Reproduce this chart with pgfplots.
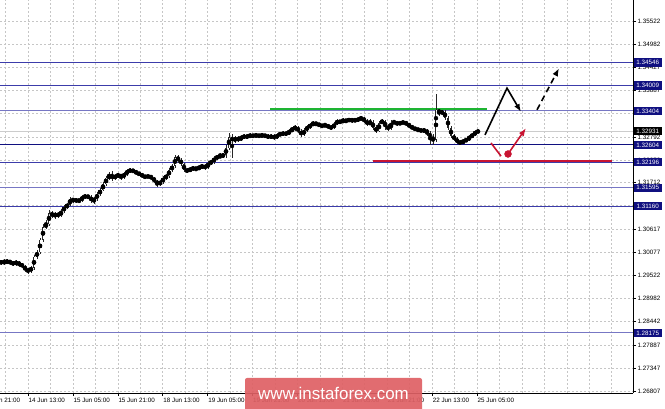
\documentclass[border=0pt]{standalone}
\usepackage{fontspec}
\setmainfont{Liberation Sans}
\usepackage{pgfplots}
\pgfplotsset{compat=1.18}
\usepackage{pgfplotstable}
\usetikzlibrary{arrows.meta}
\definecolor{lvl}{RGB}{60,60,170}
\definecolor{lvlbox}{RGB}{16,16,128}
\definecolor{grn}{RGB}{30,180,50}
\definecolor{rd}{RGB}{200,20,50}
\definecolor{wm}{RGB}{222,96,100}
\pgfplotstableread{
x o h l c
1 1.2983 1.2990 1.2978 1.2985
4 1.2985 1.2992 1.2978 1.2983
7 1.2983 1.2992 1.2980 1.2987
10 1.2987 1.2990 1.2978 1.2983
13 1.2983 1.2987 1.2976 1.2980
16 1.2980 1.2990 1.2976 1.2985
19 1.2985 1.2987 1.2973 1.2978
22 1.2978 1.2983 1.2971 1.2976
25 1.2976 1.2978 1.2961 1.2966
28 1.2966 1.2971 1.2957 1.2964
31 1.2964 1.2976 1.2959 1.2971
34 1.2971 1.3001 1.2966 1.2997
37 1.2997 1.3013 1.2992 1.3008
40 1.3008 1.3041 1.3004 1.3037
43 1.3037 1.3074 1.3032 1.3067
46 1.3067 1.3084 1.3063 1.3074
49 1.3074 1.3107 1.3070 1.3100
52 1.3100 1.3105 1.3089 1.3093
55 1.3093 1.3103 1.3086 1.3098
58 1.3098 1.3103 1.3089 1.3093
61 1.3093 1.3110 1.3091 1.3105
64 1.3105 1.3119 1.3100 1.3114
67 1.3114 1.3124 1.3110 1.3119
70 1.3119 1.3138 1.3117 1.3133
73 1.3133 1.3136 1.3124 1.3129
76 1.3129 1.3136 1.3124 1.3131
79 1.3131 1.3133 1.3124 1.3129
82 1.3129 1.3143 1.3126 1.3138
85 1.3138 1.3145 1.3133 1.3140
88 1.3140 1.3143 1.3133 1.3138
91 1.3138 1.3143 1.3124 1.3129
94 1.3129 1.3138 1.3121 1.3133
97 1.3133 1.3150 1.3129 1.3145
100 1.3145 1.3159 1.3140 1.3154
103 1.3154 1.3173 1.3152 1.3168
106 1.3168 1.3187 1.3164 1.3183
109 1.3183 1.3197 1.3178 1.3187
112 1.3187 1.3199 1.3176 1.3183
115 1.3183 1.3192 1.3178 1.3187
118 1.3187 1.3194 1.3183 1.3190
121 1.3190 1.3192 1.3178 1.3185
124 1.3185 1.3197 1.3180 1.3192
127 1.3192 1.3204 1.3187 1.3199
130 1.3199 1.3206 1.3194 1.3201
133 1.3201 1.3204 1.3194 1.3199
136 1.3199 1.3201 1.3190 1.3194
139 1.3194 1.3197 1.3187 1.3192
142 1.3192 1.3194 1.3183 1.3187
145 1.3187 1.3190 1.3180 1.3185
148 1.3185 1.3190 1.3183 1.3187
151 1.3187 1.3190 1.3178 1.3183
154 1.3183 1.3185 1.3171 1.3176
157 1.3176 1.3178 1.3161 1.3168
160 1.3168 1.3178 1.3164 1.3173
163 1.3173 1.3187 1.3168 1.3183
166 1.3183 1.3192 1.3178 1.3187
169 1.3187 1.3206 1.3183 1.3201
172 1.3201 1.3216 1.3197 1.3211
175 1.3211 1.3237 1.3206 1.3232
178 1.3232 1.3237 1.3218 1.3225
181 1.3225 1.3230 1.3211 1.3216
184 1.3216 1.3218 1.3197 1.3201
187 1.3201 1.3206 1.3194 1.3199
190 1.3199 1.3208 1.3197 1.3204
193 1.3204 1.3211 1.3199 1.3206
196 1.3206 1.3208 1.3199 1.3204
199 1.3204 1.3213 1.3201 1.3208
202 1.3208 1.3216 1.3204 1.3211
205 1.3211 1.3216 1.3201 1.3206
208 1.3206 1.3223 1.3204 1.3218
211 1.3218 1.3225 1.3213 1.3220
214 1.3220 1.3234 1.3216 1.3230
217 1.3230 1.3237 1.3225 1.3232
220 1.3232 1.3241 1.3230 1.3234
223 1.3234 1.3241 1.3230 1.3237
226 1.3237 1.3260 1.3230 1.3253
229 1.3253 1.3288 1.3248 1.3279
232 1.3279 1.3286 1.3230 1.3270
235 1.3270 1.3281 1.3265 1.3277
238 1.3277 1.3281 1.3267 1.3272
241 1.3272 1.3284 1.3270 1.3279
244 1.3279 1.3286 1.3274 1.3281
247 1.3281 1.3286 1.3274 1.3279
250 1.3279 1.3288 1.3277 1.3284
253 1.3284 1.3286 1.3277 1.3281
256 1.3281 1.3288 1.3279 1.3284
259 1.3284 1.3286 1.3277 1.3281
262 1.3281 1.3288 1.3279 1.3284
265 1.3284 1.3286 1.3277 1.3281
268 1.3281 1.3286 1.3274 1.3279
271 1.3279 1.3286 1.3274 1.3281
274 1.3281 1.3286 1.3272 1.3277
277 1.3277 1.3288 1.3274 1.3284
280 1.3284 1.3291 1.3281 1.3286
283 1.3286 1.3293 1.3281 1.3288
286 1.3288 1.3293 1.3281 1.3286
289 1.3286 1.3298 1.3284 1.3293
292 1.3293 1.3303 1.3291 1.3298
295 1.3298 1.3307 1.3293 1.3303
298 1.3303 1.3305 1.3288 1.3293
301 1.3293 1.3298 1.3279 1.3284
304 1.3284 1.3300 1.3281 1.3296
307 1.3296 1.3307 1.3291 1.3303
310 1.3303 1.3312 1.3298 1.3307
313 1.3307 1.3317 1.3305 1.3312
316 1.3312 1.3314 1.3305 1.3310
319 1.3310 1.3312 1.3303 1.3307
322 1.3307 1.3310 1.3300 1.3305
325 1.3305 1.3312 1.3303 1.3307
328 1.3307 1.3310 1.3298 1.3303
331 1.3303 1.3307 1.3296 1.3300
334 1.3300 1.3314 1.3298 1.3310
337 1.3310 1.3321 1.3307 1.3317
340 1.3317 1.3319 1.3310 1.3314
343 1.3314 1.3324 1.3312 1.3319
346 1.3319 1.3321 1.3312 1.3317
349 1.3317 1.3324 1.3314 1.3321
352 1.3321 1.3324 1.3312 1.3317
355 1.3317 1.3324 1.3314 1.3319
358 1.3319 1.3326 1.3314 1.3321
361 1.3321 1.3328 1.3319 1.3324
364 1.3324 1.3326 1.3312 1.3317
367 1.3317 1.3321 1.3305 1.3310
370 1.3310 1.3321 1.3307 1.3314
373 1.3314 1.3319 1.3296 1.3300
376 1.3300 1.3307 1.3288 1.3293
379 1.3293 1.3317 1.3291 1.3312
382 1.3312 1.3321 1.3310 1.3317
385 1.3317 1.3319 1.3296 1.3303
388 1.3303 1.3310 1.3293 1.3298
391 1.3298 1.3319 1.3296 1.3312
394 1.3312 1.3319 1.3310 1.3314
397 1.3314 1.3317 1.3305 1.3310
400 1.3310 1.3317 1.3307 1.3312
403 1.3312 1.3317 1.3310 1.3314
406 1.3314 1.3317 1.3305 1.3310
409 1.3310 1.3312 1.3300 1.3305
412 1.3305 1.3307 1.3296 1.3300
415 1.3300 1.3303 1.3293 1.3298
418 1.3298 1.3300 1.3291 1.3296
421 1.3296 1.3298 1.3291 1.3293
424 1.3293 1.3298 1.3291 1.3296
427 1.3296 1.3298 1.3281 1.3288
430 1.3288 1.3293 1.3260 1.3279
433 1.3279 1.3286 1.3260 1.3272
436 1.3272 1.3380 1.3267 1.3343
439 1.3343 1.3345 1.3328 1.3336
442 1.3336 1.3343 1.3331 1.3338
445 1.3338 1.3343 1.3319 1.3324
448 1.3324 1.3328 1.3296 1.3300
451 1.3300 1.3305 1.3277 1.3281
454 1.3281 1.3286 1.3270 1.3274
457 1.3274 1.3279 1.3263 1.3267
460 1.3267 1.3272 1.3260 1.3265
463 1.3265 1.3274 1.3263 1.3270
466 1.3270 1.3277 1.3267 1.3272
469 1.3272 1.3284 1.3270 1.3279
472 1.3279 1.3288 1.3277 1.3284
475 1.3284 1.3296 1.3281 1.3291
478 1.3291 1.3296 1.3288 1.3293
}\candles

\begin{document}
\begin{tikzpicture}
\useasboundingbox (0,0) rectangle (665bp,409bp);
\begin{axis}[
  at={(0,16bp)}, anchor=south west,
  width=633bp, height=393bp, scale only axis,
  xmin=0, xmax=633, ymin=1.26761, ymax=1.36017,
  axis x line*=bottom, axis y line*=right,
  axis line style={black, line width=0.8bp},
  clip=false,
  tick align=outside, major tick length=3bp, minor tick length=0pt,
  tick style={black, line width=0.6bp},
  xtick={28,72.9,117.8,162.7,207.6,252.5,297.4,342.3,387.2,432.1,477},
  xticklabels={14 Jun 13:00,15 Jun 05:00,15 Jun 21:00,18 Jun 13:00,19 Jun 05:00,19 Jun 21:00,20 Jun 13:00,21 Jun 05:00,21 Jun 21:00,22 Jun 13:00,25 Jun 05:00},
  minor xtick={5.55,50.45,95.35,140.25,185.15,230.05,274.95,319.85,364.75,409.65,454.55,499.45,521.9,544.35,566.8,589.25,611.7},
  ytick={1.26807,1.27347,1.27887,1.28442,1.28982,1.29522,1.30077,1.30617,1.31172,1.31712,1.32252,1.32792,1.33347,1.33887,1.34427,1.34982,1.35522},
  yticklabels={1.26807,1.27347,1.27887,1.28442,1.28982,1.29522,1.30077,1.30617,1.31172,1.31712,1.32252,1.32792,1.33347,1.33887,1.34427,1.34982,1.35522},
  tick label style={font=\fontsize{6.3}{7}\selectfont},
  x tick label style={anchor=north west, inner xsep=0.5bp, inner ysep=2bp},
  y tick label style={inner xsep=1.5bp},
  grid=both,
  major grid style={gray!45, line width=0.6bp, dash pattern=on 2bp off 2bp},
  minor grid style={gray!45, line width=0.6bp, dash pattern=on 2bp off 2bp},
]
% bid line
\addplot[gray!40, line width=0.8bp] coordinates {(0,1.32931) (633,1.32931)};
% levels
\addplot[lvl, line width=1bp] coordinates {(0,1.34546) (633,1.34546)};
\addplot[lvl, line width=1bp] coordinates {(0,1.34009) (633,1.34009)};
\addplot[lvl!70, line width=1bp] coordinates {(0,1.33404) (633,1.33404)};
\addplot[lvlbox, line width=1bp] coordinates {(0,1.32604) (633,1.32604)};
\addplot[lvl, line width=1bp] coordinates {(0,1.32196) (633,1.32196)};
\addplot[lvl!70, line width=1bp] coordinates {(0,1.31595) (633,1.31595)};
\addplot[lvl, line width=1bp] coordinates {(0,1.31160) (633,1.31160)};
\addplot[lvl!70, line width=1bp] coordinates {(0,1.28175) (633,1.28175)};
% green and red zone lines
\addplot[grn, line width=1.8bp] coordinates {(270,1.3345) (487,1.3345)};
\addplot[rd, line width=2bp] coordinates {(373,1.3222) (612,1.3222)};
% candles: wicks
\addplot[only marks, mark=none, error bars/.cd, y dir=both, y explicit, error mark=none,
  error bar style={black!85, line width=0.6bp}]
  table[x=x, y expr={(\thisrow{h}+\thisrow{l})/2}, y error expr={(\thisrow{h}-\thisrow{l})/2}] {\candles};
% bodies
\addplot[only marks, mark=none, error bars/.cd, y dir=both, y explicit, error mark=none,
  error bar style={black!85, line width=1.9bp}]
  table[x=x, y expr={(\thisrow{o}+\thisrow{c})/2}, y error expr={abs(\thisrow{o}-\thisrow{c})/2}] {\candles};
% bullish bodies hollow
\addplot[only marks, mark=none, restrict expr to domain={\thisrow{c}-\thisrow{o}}{0.0003:1},
  error bars/.cd, y dir=both, y explicit, error mark=none,
  error bar style={white, line width=0.7bp}]
  table[x=x, y expr={(\thisrow{o}+\thisrow{c})/2}, y error expr={(\thisrow{c}-\thisrow{o})/2-0.00012}] {\candles};
% forecast arrows
\addplot[black, line width=1.6bp, -{Latex[length=8bp,width=6bp]}] coordinates {(485,1.3284) (507,1.3394) (521,1.3338)};
\addplot[black, line width=1.6bp, dash pattern=on 6bp off 4bp, -{Latex[length=8bp,width=6bp]}] coordinates {(537,1.3343) (559,1.3441)};
\addplot[rd, line width=1.6bp] coordinates {(491,1.3265) (501,1.3234)};
\addplot[rd, line width=1.6bp, -{Latex[length=8bp,width=6bp]}] coordinates {(508,1.3239) (526,1.3300)};
\addplot[rd, only marks, mark=*, mark size=3.5bp] coordinates {(508,1.3239)};
% anchors for price boxes
\coordinate (L1) at (axis cs:633,1.34546);
\coordinate (L2) at (axis cs:633,1.34009);
\coordinate (L3) at (axis cs:633,1.33404);
\coordinate (L4) at (axis cs:633,1.32931);
\coordinate (L5) at (axis cs:633,1.32604);
\coordinate (L6) at (axis cs:633,1.32196);
\coordinate (L7) at (axis cs:633,1.31595);
\coordinate (L8) at (axis cs:633,1.31160);
\coordinate (L9) at (axis cs:633,1.28175);
\coordinate (X0) at (axis cs:-16.9,1.26761);
\end{axis}
\tikzset{lab/.style={fill=#1, text=white, font=\fontsize{6.3}{7}\selectfont, anchor=west,
  inner xsep=1bp, inner ysep=0.5bp, minimum height=8.5bp, minimum width=28bp}}
\node[lab=lvlbox] at ([xshift=0.5bp]L1) {1.34546};
\node[lab=lvlbox] at ([xshift=0.5bp]L2) {1.34009};
\node[lab=lvlbox] at ([xshift=0.5bp]L3) {1.33404};
\node[lab=black] at ([xshift=0.5bp]L4) {1.32931};
\node[lab=lvlbox] at ([xshift=0.5bp]L5) {1.32604};
\node[lab=lvlbox] at ([xshift=0.5bp]L6) {1.32196};
\node[lab=lvlbox] at ([xshift=0.5bp]L7) {1.31595};
\node[lab=lvlbox] at ([xshift=0.5bp]L8) {1.31160};
\node[lab=lvlbox] at ([xshift=0.5bp]L9) {1.28175};
\draw[black, line width=0.6bp] (X0) -- ++(0,-3bp);
\node[anchor=north west, inner xsep=0.5bp, inner ysep=2bp, font=\fontsize{6.3}{7}\selectfont] at ([yshift=-3bp]X0) {13 Jun 21:00};
% watermark
\fill[wm, fill opacity=0.92, rounded corners=2bp] (245bp,-2bp) rectangle (422bp,31bp);
\node[text=white, font=\fontsize{17}{20}\selectfont] at (333.5bp,15.5bp) {www.instaforex.com};
\end{tikzpicture}
\end{document}
